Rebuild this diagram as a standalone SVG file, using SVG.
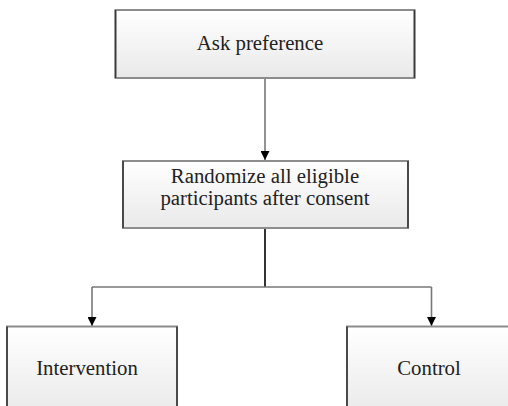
<svg xmlns="http://www.w3.org/2000/svg" width="508" height="406" viewBox="0 0 508 406">
  <defs>
    <linearGradient id="boxFill" x1="0" y1="0" x2="0" y2="1">
      <stop offset="0" stop-color="#ffffff"/>
      <stop offset="1" stop-color="#e9e9e9"/>
    </linearGradient>
    <marker id="arrow" viewBox="0 0 10 10" refX="10" refY="5" markerWidth="10" markerHeight="9" markerUnits="userSpaceOnUse" orient="auto">
      <path d="M0,0 L10,5 L0,10 z" fill="#000"/>
    </marker>
    <style>
      .box { fill: url(#boxFill); stroke: #8c8c8c; stroke-width: 2; }
      .side { fill: none; stroke: #3a3a3a; stroke-width: 1.6; }
      .label { font-family: "Liberation Serif", "Times New Roman", serif; font-size: 20.8px; fill: #222; text-anchor: middle; }
      .link { fill: none; stroke: #777; stroke-width: 1.6; }
      .trunk { fill: none; stroke: #333; stroke-width: 2; }
    </style>
  </defs>
  <rect width="508" height="406" fill="#ffffff"/>

  <g id="connectors">
    <path class="link" d="M265,78 V160" marker-end="url(#arrow)"/>
    <path class="trunk" d="M265,228 V287"/>
    <path class="link" d="M92,287 H431.5"/>
    <path class="link" d="M92,287 V326" marker-end="url(#arrow)"/>
    <path class="link" d="M431.5,287 V326" marker-end="url(#arrow)"/>
  </g>

  <g id="ask-preference">
    <rect class="box" x="115.5" y="10" width="299" height="68"/>
    <path class="side" d="M115.5,10 V78 M414.5,10 V78"/>
    <text class="label" x="260" y="50">Ask preference</text>
  </g>

  <g id="randomize">
    <rect class="box" x="123" y="161" width="285" height="67"/>
    <path class="side" d="M123,161 V228 M408,161 V228"/>
    <text class="label" x="265" y="183">Randomize all eligible</text>
    <text class="label" x="265" y="205">participants after consent</text>
  </g>

  <g id="intervention">
    <rect class="box" x="7" y="326.5" width="170" height="90"/>
    <path class="side" d="M7,326.5 V406 M177,326.5 V406"/>
    <text class="label" x="87" y="375">Intervention</text>
  </g>

  <g id="control">
    <rect class="box" x="347" y="326.5" width="170" height="90"/>
    <path class="side" d="M347,326.5 V406"/>
    <text class="label" x="429" y="375">Control</text>
  </g>
</svg>
